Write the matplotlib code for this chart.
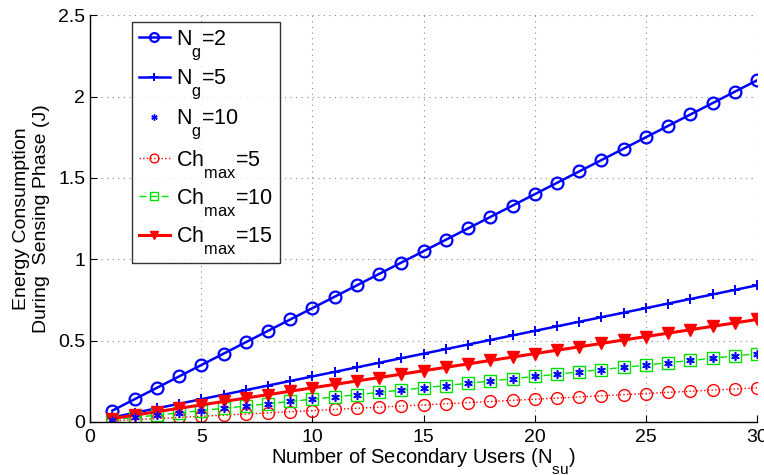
import matplotlib
matplotlib.use("Agg")
import matplotlib.pyplot as plt
import matplotlib._mathtext as mathtext_impl

plt.rcParams['font.family'] = ['Liberation Sans', 'DejaVu Sans']
plt.rcParams['mathtext.fontset'] = 'custom'
plt.rcParams['mathtext.rm'] = 'Liberation Sans'
plt.rcParams['mathtext.it'] = 'Liberation Sans'
# deeper, larger subscripts in the TeX-style labels
mathtext_impl.FontConstantsBase.sub1 = 1.0
mathtext_impl.SHRINK_FACTOR = 0.76

n_su = list(range(1, 31))

ng2 = [0.07, 0.14, 0.21, 0.28, 0.35, 0.42, 0.49, 0.56, 0.63, 0.70,
       0.77, 0.84, 0.91, 0.98, 1.05, 1.12, 1.19, 1.26, 1.33, 1.40,
       1.47, 1.54, 1.61, 1.68, 1.75, 1.82, 1.89, 1.96, 2.03, 2.10]
ng5 = [0.028, 0.056, 0.084, 0.112, 0.140, 0.168, 0.196, 0.224, 0.252, 0.280,
       0.308, 0.336, 0.364, 0.392, 0.420, 0.448, 0.476, 0.504, 0.532, 0.560,
       0.588, 0.616, 0.644, 0.672, 0.700, 0.728, 0.756, 0.784, 0.812, 0.840]
ng10 = [0.014, 0.028, 0.042, 0.056, 0.070, 0.084, 0.098, 0.112, 0.126, 0.140,
        0.154, 0.168, 0.182, 0.196, 0.210, 0.224, 0.238, 0.252, 0.266, 0.280,
        0.294, 0.308, 0.322, 0.336, 0.350, 0.364, 0.378, 0.392, 0.406, 0.420]
ch5 = [0.007, 0.014, 0.021, 0.028, 0.035, 0.042, 0.049, 0.056, 0.063, 0.070,
       0.077, 0.084, 0.091, 0.098, 0.105, 0.112, 0.119, 0.126, 0.133, 0.140,
       0.147, 0.154, 0.161, 0.168, 0.175, 0.182, 0.189, 0.196, 0.203, 0.210]
ch10 = [0.014, 0.028, 0.042, 0.056, 0.070, 0.084, 0.098, 0.112, 0.126, 0.140,
        0.154, 0.168, 0.182, 0.196, 0.210, 0.224, 0.238, 0.252, 0.266, 0.280,
        0.294, 0.308, 0.322, 0.336, 0.350, 0.364, 0.378, 0.392, 0.406, 0.420]
ch15 = [0.021, 0.042, 0.063, 0.084, 0.105, 0.126, 0.147, 0.168, 0.189, 0.210,
        0.231, 0.252, 0.273, 0.294, 0.315, 0.336, 0.357, 0.378, 0.399, 0.420,
        0.441, 0.462, 0.483, 0.504, 0.525, 0.546, 0.567, 0.588, 0.609, 0.630]

labels = [r'N$_{\rm g}$=2', r'N$_{\rm g}$=5', r'N$_{\rm g}$=10',
          r'Ch$_{\rm max}$=5', r'Ch$_{\rm max}$=10', r'Ch$_{\rm max}$=15']

fig = plt.figure(figsize=(7.64, 4.75), dpi=100)
ax = fig.add_axes([0.118, 0.1116, 0.873, 0.8564])

ax.plot(n_su, ng2, color='#0000ff', lw=1.8, marker='o', ms=8.5, mfc='none',
        mew=1.6, label=labels[0])
ax.plot(n_su, ng5, color='#0000ff', lw=1.8, marker='+', ms=7, mew=1.4,
        label=labels[1])
ax.plot(n_su, ng10, color='#0000ff', ls='none', marker=(6, 2, 0), ms=6,
        mew=1.0, label=labels[2])
ax.plot(n_su, ch5, color='#ff0000', lw=1.0, ls=':', marker='o', ms=8.5,
        mfc='none', mew=1.0, label=labels[3])
ax.plot(n_su, ch10, color='#00e000', lw=1.0, ls=(0, (5, 3)), marker='s',
        ms=8, mfc='none', mew=1.0, label=labels[4])
ax.plot(n_su, ch15, color='#ff0000', lw=2.2, marker='v', ms=8.5,
        mfc='#ff0000', mew=1.0, label=labels[5])
# redraw the star markers on top so they stay visible inside the squares
ax.plot(n_su, ng10, color='#0000ff', ls='none', marker=(6, 2, 0), ms=6,
        mew=1.0)

ax.set_xlim(0, 30)
ax.set_ylim(0, 2.5)
ax.set_xticks([0, 5, 10, 15, 20, 25, 30])
ax.set_yticks([0, 0.5, 1, 1.5, 2, 2.5])
ax.set_xticklabels(['0', '5', '10', '15', '20', '25', '30'])
ax.set_yticklabels(['0', '0.5', '1', '1.5', '2', '2.5'])
ax.tick_params(direction='in', length=5, labelsize=14, width=0.8,
               top=False, right=False)
ax.tick_params(axis='x', pad=5)
ax.grid(True, ls=(0, (1, 4)), color='#888888', lw=0.8)
for side in ('top', 'right'):
    ax.spines[side].set_visible(False)
for side in ('left', 'bottom'):
    ax.spines[side].set_linewidth(1.0)

ax.set_xlabel(r'Number of Secondary Users (N$_{\rm su}$)', fontsize=14.5,
              labelpad=0)
ax.set_ylabel('Energy Consumption\nDuring  Sensing Phase (J)', fontsize=14,
              labelpad=6)

leg = ax.legend(loc='upper left', bbox_to_anchor=(0.063, 0.983),
                borderaxespad=0, fontsize=15.5, frameon=True, fancybox=False,
                edgecolor='black', handlelength=1.45, labelspacing=0.3,
                borderpad=0.3, handletextpad=0.3, markerscale=0.75)
leg.get_frame().set_linewidth(1.0)

fig.savefig('out.png', dpi=100)
